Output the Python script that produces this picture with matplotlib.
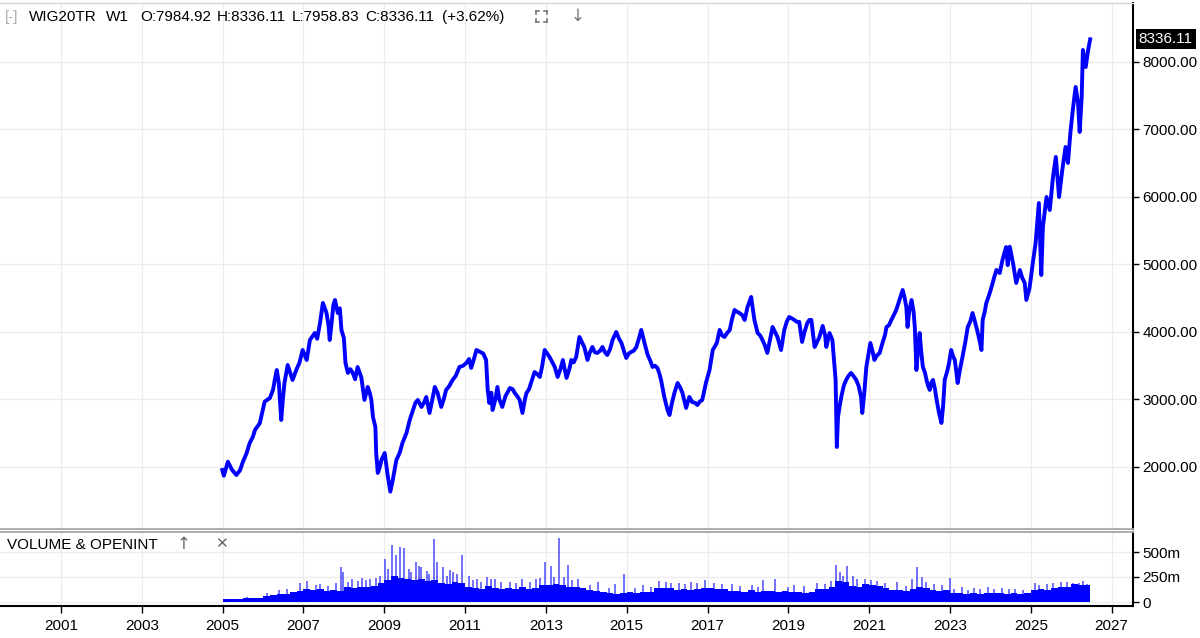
import matplotlib
matplotlib.use("Agg")
import matplotlib.pyplot as plt
import matplotlib.transforms as mtransforms
from matplotlib.lines import Line2D

plt.rcParams['font.family'] = ['Liberation Sans', 'DejaVu Sans']

# ---------------- data ----------------
price_years = [
    2004.99, 2005.03, 2005.13, 2005.23, 2005.34, 2005.43, 2005.50, 2005.59, 2005.67, 2005.75,
    2005.80, 2005.92, 2006.04, 2006.17, 2006.25, 2006.29, 2006.34, 2006.39, 2006.45, 2006.49,
    2006.53, 2006.61, 2006.67, 2006.73, 2006.83, 2006.90, 2006.98, 2007.08, 2007.16, 2007.28,
    2007.34, 2007.41, 2007.48, 2007.53, 2007.57, 2007.62, 2007.65, 2007.70, 2007.74, 2007.78,
    2007.85, 2007.90, 2007.94, 2008.00, 2008.04, 2008.10, 2008.16, 2008.22, 2008.28, 2008.34,
    2008.43, 2008.51, 2008.59, 2008.64, 2008.68, 2008.72, 2008.78, 2008.80, 2008.84, 2008.89,
    2008.93, 2009.01, 2009.09, 2009.15, 2009.21, 2009.30, 2009.38, 2009.45, 2009.55, 2009.63,
    2009.71, 2009.77, 2009.83, 2009.92, 2009.98, 2010.04, 2010.12, 2010.19, 2010.25, 2010.32,
    2010.41, 2010.47, 2010.53, 2010.61, 2010.69, 2010.77, 2010.86, 2010.95, 2011.03, 2011.10,
    2011.15, 2011.22, 2011.28, 2011.36, 2011.45, 2011.52, 2011.56, 2011.60, 2011.65, 2011.68,
    2011.75, 2011.80, 2011.85, 2011.92, 2012.00, 2012.11, 2012.18, 2012.23, 2012.29, 2012.35,
    2012.42, 2012.48, 2012.52, 2012.58, 2012.64, 2012.72, 2012.78, 2012.85, 2012.91, 2012.97,
    2013.09, 2013.16, 2013.22, 2013.29, 2013.36, 2013.42, 2013.51, 2013.58, 2013.63, 2013.69,
    2013.75, 2013.83, 2013.89, 2013.95, 2014.03, 2014.09, 2014.15, 2014.21, 2014.27, 2014.34,
    2014.40, 2014.46, 2014.52, 2014.59, 2014.65, 2014.74, 2014.81, 2014.87, 2014.94, 2014.99,
    2015.05, 2015.11, 2015.17, 2015.24, 2015.30, 2015.36, 2015.44, 2015.52, 2015.58, 2015.64,
    2015.70, 2015.76, 2015.81, 2015.85, 2015.93, 2016.01, 2016.06, 2016.12, 2016.18, 2016.26,
    2016.32, 2016.38, 2016.47, 2016.55, 2016.62, 2016.69, 2016.75, 2016.81, 2016.87, 2016.96,
    2017.05, 2017.13, 2017.23, 2017.30, 2017.36, 2017.42, 2017.48, 2017.55, 2017.61, 2017.67,
    2017.73, 2017.79, 2017.86, 2017.92, 2017.99, 2018.08, 2018.12, 2018.16, 2018.24, 2018.30,
    2018.36, 2018.42, 2018.48, 2018.55, 2018.61, 2018.67, 2018.73, 2018.82, 2018.90, 2018.96,
    2019.02, 2019.09, 2019.15, 2019.21, 2019.27, 2019.34, 2019.40, 2019.47, 2019.52, 2019.57,
    2019.65, 2019.71, 2019.77, 2019.85, 2019.91, 2019.94, 2020.02, 2020.09, 2020.14, 2020.17,
    2020.20, 2020.23, 2020.27, 2020.31, 2020.37, 2020.43, 2020.49, 2020.55, 2020.61, 2020.68,
    2020.74, 2020.80, 2020.83, 2020.88, 2020.93, 2020.99, 2021.03, 2021.09, 2021.13, 2021.19,
    2021.26, 2021.33, 2021.39, 2021.43, 2021.49, 2021.55, 2021.61, 2021.67, 2021.75, 2021.83,
    2021.88, 2021.92, 2021.95, 2021.99, 2022.05, 2022.10, 2022.13, 2022.17, 2022.21, 2022.25,
    2022.29, 2022.33, 2022.38, 2022.42, 2022.46, 2022.50, 2022.54, 2022.58, 2022.63, 2022.67,
    2022.73, 2022.79, 2022.83, 2022.87, 2022.94, 2022.98, 2023.03, 2023.07, 2023.12, 2023.16,
    2023.19, 2023.25, 2023.31, 2023.38, 2023.44, 2023.50, 2023.56, 2023.62, 2023.69, 2023.74,
    2023.78, 2023.81, 2023.86, 2023.90, 2023.97, 2024.03, 2024.09, 2024.15, 2024.23, 2024.30,
    2024.39, 2024.43, 2024.48, 2024.56, 2024.64, 2024.73, 2024.79, 2024.85, 2024.89, 2024.97,
    2025.05, 2025.12, 2025.20, 2025.26, 2025.30, 2025.39, 2025.47, 2025.55, 2025.62, 2025.70,
    2025.78, 2025.86, 2025.92, 2025.98, 2026.04, 2026.11, 2026.17, 2026.21, 2026.26, 2026.29,
    2026.36, 2026.42, 2026.47,
]
price_close = [
    1955, 1870, 2078, 1960, 1881, 1950, 2074, 2200, 2355, 2450,
    2548, 2650, 2967, 3022, 3150, 3289, 3437, 3250, 2696, 3000,
    3244, 3511, 3400, 3289, 3450, 3541, 3733, 3585, 3881, 3985,
    3900, 4133, 4430, 4350, 4281, 4100, 3881, 4150, 4400, 4474,
    4281, 4350, 4030, 3911, 3541, 3393, 3450, 3393, 3300, 3481,
    3333, 2993, 3185, 3100, 2993, 2741, 2593, 2207, 1911, 2000,
    2104, 2207, 1852, 1634, 1807, 2104, 2207, 2355, 2504, 2696,
    2844, 2950, 2993, 2889, 2950, 3037, 2800, 3000, 3185, 3096,
    2889, 3000, 3141, 3200, 3289, 3350, 3481, 3500, 3541, 3600,
    3467, 3600, 3733, 3708, 3680, 3585, 3141, 2948, 3100, 2844,
    3000, 3185, 3000, 2889, 3050, 3170, 3150, 3096, 3050, 2993,
    2800, 3000, 3096, 3150, 3259, 3407, 3380, 3333, 3500, 3733,
    3630, 3550, 3481, 3333, 3450, 3585, 3319, 3450, 3585, 3550,
    3630, 3926, 3850, 3778, 3585, 3700, 3778, 3700, 3689, 3720,
    3778, 3700, 3659, 3750, 3881, 4000, 3900, 3837, 3700, 3615,
    3680, 3704, 3720, 3778, 3900, 4030, 3837, 3659, 3580, 3481,
    3500, 3467, 3380, 3289, 3037, 2844, 2770, 2950, 3096, 3244,
    3180, 3096, 2874, 3037, 2963, 2950, 2918, 2970, 2993, 3244,
    3437, 3733, 3837, 4030, 3950, 3926, 3980, 4030, 4200, 4326,
    4300, 4281, 4250, 4178, 4370, 4519, 4350, 4178, 3985, 3950,
    3881, 3800, 3689, 3900, 4074, 4000, 3926, 3733, 4030, 4150,
    4222, 4200, 4178, 4150, 4150, 3852, 4000, 4133, 4178, 4178,
    3778, 3850, 3926, 4090, 3950, 3778, 3985, 3881, 3500, 3289,
    2296, 2741, 2900, 3037, 3200, 3289, 3350, 3393, 3350, 3289,
    3200, 3037, 2800, 3100, 3481, 3700, 3837, 3700, 3585, 3650,
    3689, 3837, 3950, 4074, 4100, 4178, 4250, 4326, 4474, 4622,
    4500, 4370, 4074, 4300, 4474, 4300, 4074, 3437, 3750, 3985,
    3700, 3481, 3400, 3289, 3200, 3141, 3250, 3289, 3150, 2993,
    2800, 2652, 2900, 3289, 3437, 3550, 3733, 3650, 3585, 3400,
    3244, 3450, 3630, 3850, 4074, 4150, 4281, 4150, 3985, 3850,
    3733, 4178, 4300, 4430, 4550, 4667, 4800, 4919, 4874, 5067,
    5259, 4990, 5263, 5022, 4726, 4918, 4800, 4726, 4474, 4652,
    5022, 5318, 5911, 4844, 5556, 6000, 5807, 6296, 6593, 6000,
    6400, 6741, 6504, 6948, 7289, 7630, 7393, 6963, 7481, 8178,
    7926, 8178, 8336.11,
]

# volume: level of the weekly bars, one value per two months from 2005.0 (millions)
vol_start = 2005.0
vol_levels = [
    25, 30, 32, 35, 40, 42,
    55, 65, 80, 75, 95, 105,
    125, 115, 130, 105, 120, 110,
    150, 135, 145, 150, 160, 190,
    220, 260, 240, 230, 215, 225,
    205, 220, 190, 175, 195, 185,
    150, 135, 125, 160, 140, 130,
    135, 125, 145, 130, 140, 170,
    165, 180, 170, 150, 145, 135,
    120, 110, 100, 90, 80, 85,
    95, 90, 95, 100, 135, 140,
    135, 120, 125, 115, 130, 140,
    140, 130, 125, 105, 110, 100,
    115, 100, 110, 105, 100, 110,
    100, 95, 85, 95, 125, 130,
    150, 210, 195, 160, 150, 180,
    170, 160, 140, 120, 115, 110,
    130, 150, 140, 120, 110, 115,
    90, 85, 80, 85, 75, 85,
    85, 90, 80, 85, 80, 85,
    120, 130, 120, 140, 145, 150,
    175, 165, 170,
]
vol_end = 2026.47

spike_years = [
    2005.60, 2006.10, 2006.40, 2006.60, 2006.92, 2007.10, 2007.30, 2007.40, 2007.60, 2007.80,
    2007.92, 2007.98, 2008.10, 2008.20, 2008.35, 2008.45, 2008.55, 2008.65, 2008.80, 2008.90,
    2009.02, 2009.10, 2009.20, 2009.30, 2009.38, 2009.50, 2009.62, 2009.65, 2009.78, 2009.85,
    2009.92, 2010.05, 2010.10, 2010.22, 2010.30, 2010.45, 2010.55, 2010.62, 2010.70, 2010.80,
    2010.92, 2011.10, 2011.20, 2011.30, 2011.40, 2011.55, 2011.65, 2011.75, 2011.90, 2012.10,
    2012.25, 2012.40, 2012.60, 2012.75, 2012.85, 2012.98, 2013.12, 2013.20, 2013.32, 2013.45,
    2013.55, 2013.65, 2013.80, 2014.10, 2014.30, 2014.55, 2014.70, 2014.94, 2015.20, 2015.40,
    2015.60, 2015.80, 2015.98, 2016.10, 2016.30, 2016.45, 2016.60, 2016.75, 2016.95, 2017.15,
    2017.35, 2017.60, 2017.80, 2018.10, 2018.25, 2018.37, 2018.68, 2019.00, 2019.15, 2019.40,
    2019.70, 2019.90, 2020.05, 2020.17, 2020.28, 2020.35, 2020.44, 2020.60, 2020.70, 2020.90,
    2021.05, 2021.20, 2021.40, 2021.70, 2021.90, 2022.05, 2022.19, 2022.30, 2022.40, 2022.60,
    2022.80, 2022.99, 2023.10, 2023.30, 2023.45, 2023.60, 2023.75, 2023.95, 2024.10, 2024.30,
    2024.45, 2024.60, 2024.80, 2025.10, 2025.20, 2025.40, 2025.55, 2025.75, 2025.90, 2026.05,
    2026.20, 2026.30, 2026.40,
]
spike_values = [
    55, 90, 120, 130, 190, 215, 170, 180, 160, 190,
    350, 300, 200, 230, 210, 240, 220, 230, 240, 260,
    430, 330, 575, 470, 550, 540, 330, 300, 405, 360,
    350, 310, 280, 630, 400, 350, 260, 320, 300, 280,
    467, 260, 220, 230, 200, 250, 230, 230, 200, 200,
    190, 230, 200, 230, 240, 405, 360, 250, 640, 250,
    370, 220, 230, 170, 200, 140, 180, 277, 140, 170,
    150, 210, 205, 190, 190, 180, 200, 190, 225, 190,
    180, 180, 160, 170, 150, 220, 230, 150, 170, 160,
    190, 180, 210, 370, 300, 260, 360, 260, 230, 230,
    220, 210, 190, 200, 160, 230, 350, 250, 200, 180,
    170, 240, 130, 150, 120, 140, 130, 150, 130, 140,
    130, 135, 120, 190, 170, 180, 190, 200, 200, 190,
    195, 210, 185,
]

year_ticks = list(range(2001, 2028, 2))
price_ticks = [2000, 3000, 4000, 5000, 6000, 7000, 8000]
price_tick_labels = ['2000.00', '3000.00', '4000.00', '5000.00', '6000.00', '7000.00', '8000.00']
vol_ticks = [0, 250, 500]
vol_tick_labels = ['0', '250m', '500m']
last_price = 8336.11
header_items = ['WIG20TR', 'W1', 'O:7984.92', 'H:8336.11', 'L:7958.83', 'C:8336.11', '(+3.62%)']
header_x_px = [29, 106, 140, 217, 292, 365, 442]

# step positions for the volume levels (two-month buckets)
vol_years = [vol_start + i / 6 for i in range(len(vol_levels))] + [vol_end]
vol_levels_step = vol_levels + [vol_levels[-1]]

# ---------------- figure ----------------
W, H = 1200, 638
fig = plt.figure(figsize=(W / 100, H / 100), dpi=100)
fig.patch.set_facecolor('white')

def fx(px):
    return px / W

def fy(py):
    return 1 - py / H

ax = fig.add_axes([0, fy(529), fx(1133), (529 - 3) / H])
axv = fig.add_axes([0, fy(606), fx(1133), (606 - 532) / H], sharex=ax)

BLUE = '#0000ff'
GRID = '#ececec'

# main price
ax.plot(price_years, price_close, color=BLUE, lw=2.8, solid_joinstyle='round')
ax.set_xlim(1999.49, 2027.53)
ax.set_ylim(1081, 8874)

# volume
axv.fill_between(vol_years, 0, vol_levels_step, step='post', color=BLUE, lw=0)
axv.vlines(spike_years, 0, spike_values, color=BLUE, lw=1.2, alpha=0.65)
axv.set_ylim(-40, 700)

for a in (ax, axv):
    a.set_facecolor('white')
    a.set_xticks(year_ticks)
    a.grid(True, color=GRID, lw=0.9)
    a.set_axisbelow(True)
    a.spines['left'].set_visible(False)
    a.spines['right'].set_color('black')
    a.spines['right'].set_linewidth(1.5)
    a.yaxis.tick_right()
    a.tick_params(axis='y', direction='out', length=4, width=1, labelsize=11, pad=3,
                  colors='black')

ax.spines['top'].set_color('#d4d4d4')
ax.spines['top'].set_linewidth(1.0)
ax.spines['bottom'].set_color('#a8a8a8')
ax.spines['bottom'].set_linewidth(1.3)
ax.set_yticks(price_ticks)
ax.set_yticklabels(price_tick_labels)
ax.tick_params(axis='x', length=0, labelbottom=False)

axv.spines['top'].set_color('#a8a8a8')
axv.spines['top'].set_linewidth(1.3)
axv.spines['bottom'].set_color('black')
axv.spines['bottom'].set_linewidth(1.5)
axv.set_yticks(vol_ticks)
axv.set_yticklabels(vol_tick_labels)
axv.set_xticklabels([str(y) for y in year_ticks])
axv.tick_params(axis='x', direction='out', length=5, width=1, labelsize=11, pad=4)

# last price label
trans = mtransforms.blended_transform_factory(ax.transAxes, ax.transData)
ax.annotate(f'{last_price:.2f}', xy=(1.0, last_price), xycoords=trans,
            xytext=(4, 0), textcoords='offset points', ha='left', va='center',
            color='white', fontsize=11, annotation_clip=False,
            bbox=dict(boxstyle='square,pad=0.2', facecolor='black', edgecolor='none'))

# header
fig.text(fx(5), fy(17), '[-]', color='#aaaaaa', fontsize=11, va='center', ha='left')
for label, px in zip(header_items, header_x_px):
    fig.text(fx(px), fy(17), label, color='black', fontsize=11, va='center', ha='left')

# expand icon (four corners)
icon_col = '#777777'
x0, x1, y0, y1, c = 536, 547, 11, 22, 3
for (xa, ya, dx, dy) in [(x0, y0, 1, 1), (x1, y0, -1, 1), (x0, y1, 1, -1), (x1, y1, -1, -1)]:
    fig.add_artist(Line2D([fx(xa), fx(xa + dx * c)], [fy(ya), fy(ya)], color=icon_col, lw=1.2))
    fig.add_artist(Line2D([fx(xa), fx(xa)], [fy(ya), fy(ya + dy * c)], color=icon_col, lw=1.2))
fig.text(fx(578), fy(16), '↓', color=icon_col, fontsize=12, va='center', ha='center',
         family=['DejaVu Sans'])

# volume header
fig.text(fx(7), fy(545), 'VOLUME & OPENINT', color='black', fontsize=11, va='center', ha='left')
fig.text(fx(184), fy(544), '↑', color='#666666', fontsize=12, va='center', ha='center',
         family=['DejaVu Sans'])
fig.text(fx(221), fy(544), '✕', color='#666666', fontsize=11, va='center', ha='center',
         family=['DejaVu Sans'])

fig.savefig('out.png', dpi=100, facecolor='white')
